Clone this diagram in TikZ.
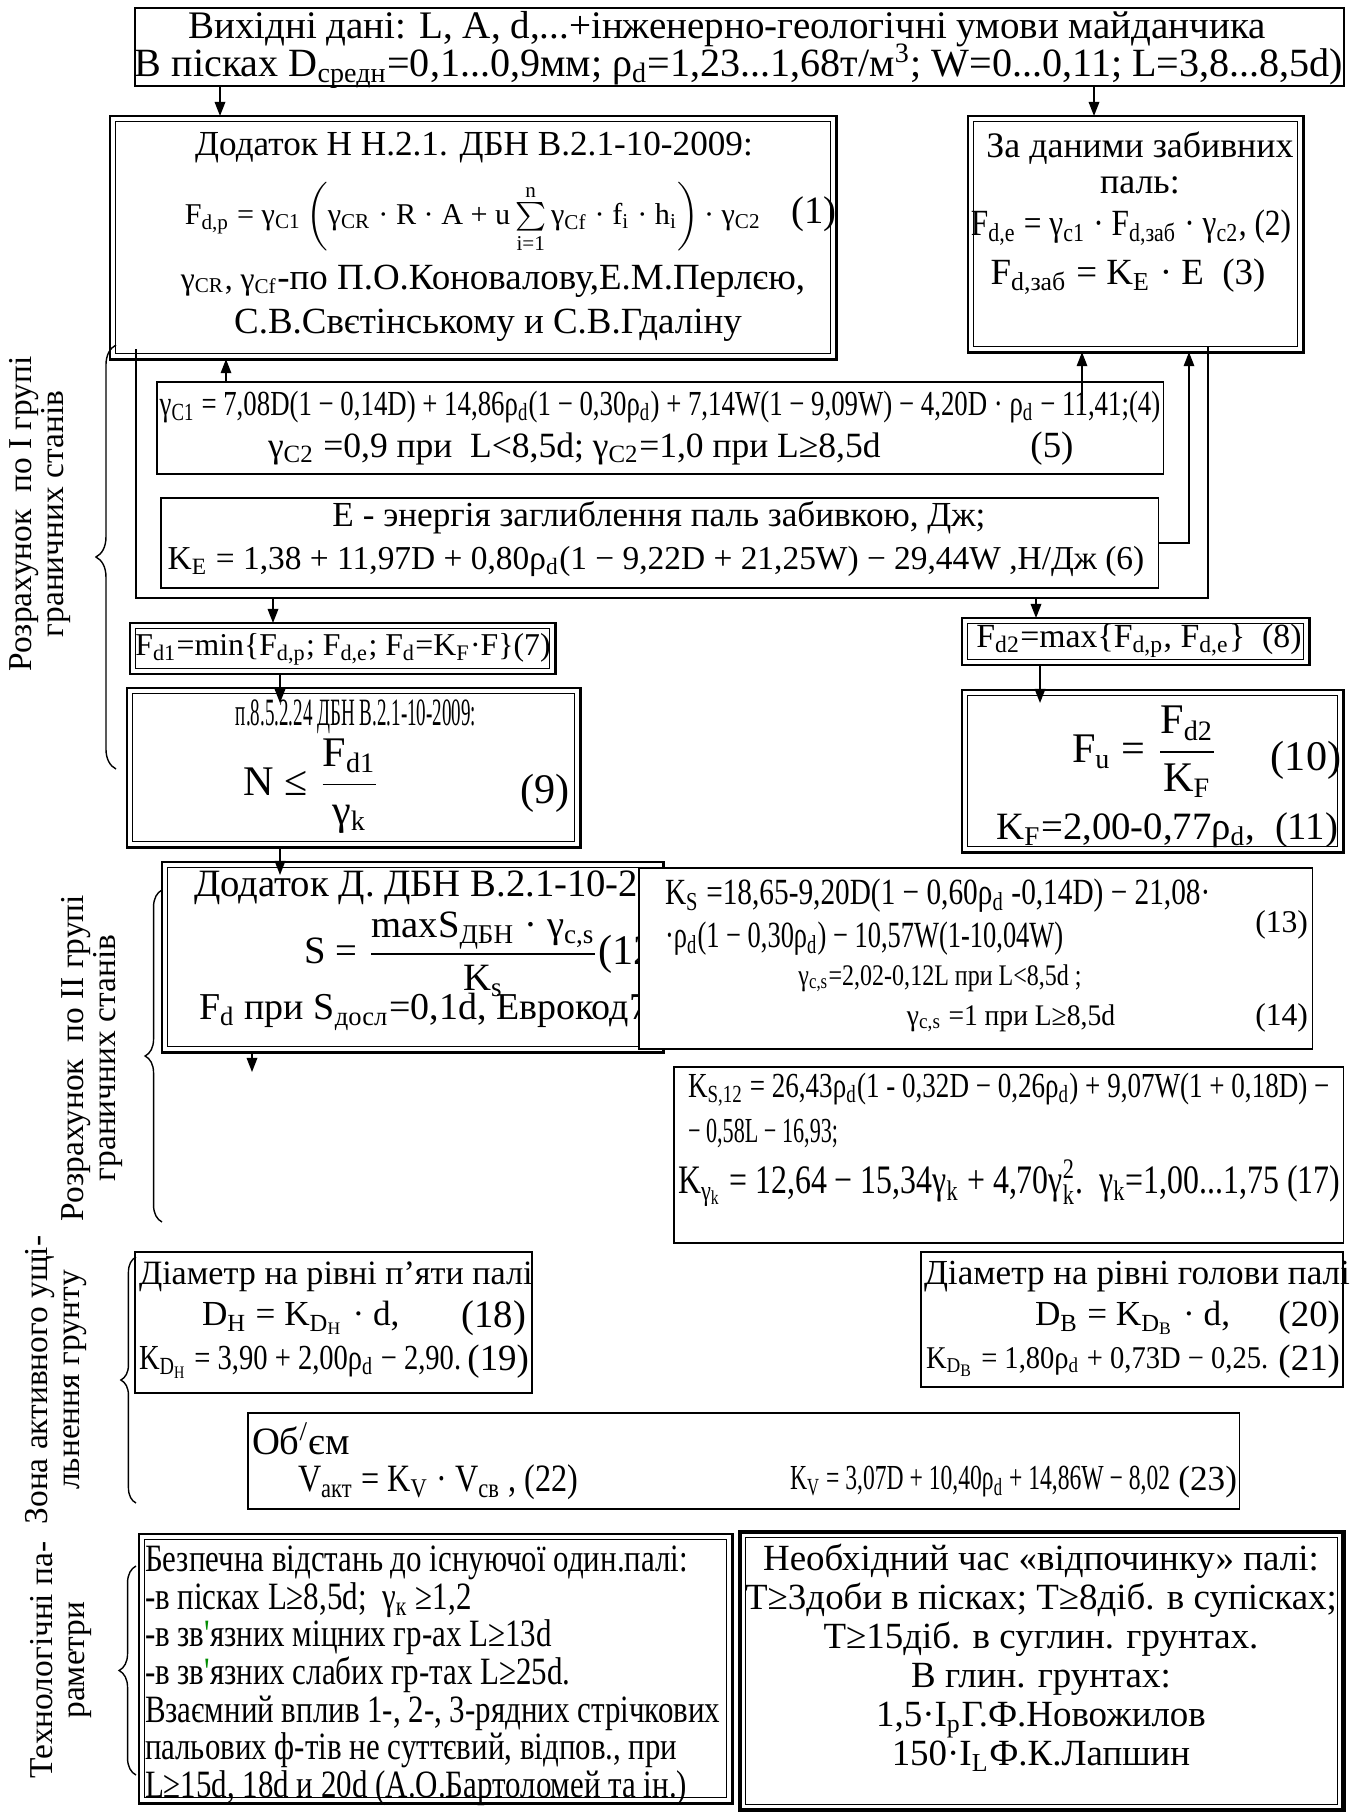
\documentclass[tikz,border=0pt]{standalone}
\usepackage{amsmath}
\usepackage{graphicx}
\usepackage{fontspec}
\setmainfont{Liberation Serif}
\newfontfamily\narrowf{Liberation Serif}[FakeStretch=0.8]
\usepackage{tikz}
\usetikzlibrary{
	arrows.meta,
	decorations.pathreplacing,
	positioning
}
\newcommand{\lo}[1]{\textsubscript{#1}}
\newcommand{\fz}[1]{\fontsize{#1}{#1}\selectfont}
\definecolor{ApoGreen}{RGB}{0,140,0}

\tikzset{
	box/.style={draw, line width=0.45pt, anchor=north west, inner sep=0pt, outer sep=0pt},
	dbox/.style={box, line width=0.8pt,
		path picture={\draw[line width=0.35pt]
			([shift={(1.6pt,-1.6pt)}]path picture bounding box.north west) rectangle
			([shift={(-1.6pt,1.6pt)}]path picture bounding box.south east);}},
	t/.style={inner sep=0pt, outer sep=0pt},
	arr/.style={line width=0.45pt, -{Triangle[length=4pt,width=3pt]}},
	brc/.style={decorate, line width=0.4pt},
	side/.style={t, rotate=90, align=center, font=\fontsize{9.5}{9}\selectfont}
}

\begin{document}
\begin{tikzpicture}[x=0.01cm, y=-0.01cm]
			\useasboundingbox (0,0) rectangle (1357,1812);
			
			% вихідні дані
			\node[box, minimum width=12.08cm, minimum height=0.78cm] (src) at (135,8) {};
			\node[t, font=\fz{11.1}] (src-a) at (727,29) {Вихідні дані: L, A, d,...+інженерно-геологічні умови майданчика};
			\node[t, font=\fz{11.4}] (src-b) at (739,66) {В пісках D\lo{средн}=0,1...0,9мм; ρ\lo{d}=1,23...1,68т/м\textsuperscript{3}; W=0...0,11; L=3,8...8,5d)};
			
			% I група
			\node[dbox, minimum width=7.26cm, minimum height=2.43cm] (dbn) at (110,116) {};
			\node[t, font=\fz{10}] (dbn-a) at (474,148) {Додаток Н Н.2.1. ДБН В.2.1-10-2009:};
			\node[t, font=\fz{9.5}] (dbn-b) at (473,218) {\resizebox{5.76cm}{!}{$\text{F\lo{d,p} = γ\lo{C1}}\left(\text{γ\lo{CR} · R · A + u}\sum\limits_{\text{i=1}}^{\text{n}}\text{γ\lo{Cf} · f\lo{i} · h\lo{i}}\right)\text{· γ\lo{C2}}$}};
			\node[t, font=\fz{11}] (dbn-n) at (814,214) {(1)};
			\node[t, font=\fz{10.5}] (dbn-c) at (493,281) {{\fz{9}γ\lo{CR}, γ\lo{Cf}}-по П.О.Коновалову,Е.М.Перлєю,};
			\node[t, font=\fz{10.5}] (dbn-d) at (488,325) {С.В.Свєтінському и С.В.Гдаліну};
			
			\node[dbox, minimum width=3.35cm, minimum height=2.36cm] (zab) at (968,116) {};
			\node[t, font=\fz{10.2}] (zab-a) at (1140,148) {За даними забивних};
			\node[t, font=\fz{10.2}] (zab-b) at (1140,185) {паль:};
			\node[t, font=\fz{10.5}] (zab-c) at (1131,228) {\resizebox{3.2cm}{\height}{F\lo{d,e} = γ\lo{c1} · F\lo{d,заб} · γ\lo{c2}, (2)}};
			\node[t, font=\fz{10.5}] (zab-d) at (1128,277) {F\lo{d,заб} = K\lo{E} · E\ \ (3)};
			
			\node[box, minimum width=10.06cm, minimum height=0.92cm] (gam) at (157,382) {};
			\node[t, font=\fz{10}] (gam-a) at (660,407) {\resizebox{10cm}{\height}{γ\lo{C1} = 7,08D(1 − 0,14D) + 14,86ρ\lo{d}(1 − 0,30ρ\lo{d}) + 7,14W(1 − 9,09W) − 4,20D · ρ\lo{d} − 11,41;(4)}};
			\node[t, anchor=west, font=\fz{10.1}] (gam-b) at (268,449) {γ\lo{C2} =0,9 при\ \ L<8,5d; γ\lo{C2}=1,0 при L≥8,5d};
			\node[t, font=\fz{10.5}] (gam-n) at (1052,449) {(5)};
			
			\node[box, minimum width=9.97cm, minimum height=0.90cm] (ken) at (161,498) {};
			\node[t, font=\fz{10}] (ken-a) at (659,518) {Е - энергія заглиблення паль забивкою, Дж;};
			\node[t, font=\fz{11}] (ken-b) at (656,561) {\resizebox{9.76cm}{!}{K\lo{E} = 1,38 + 11,97D + 0,80ρ\lo{d}(1 − 9,22D + 21,25W) − 29,44W ,Н/Дж (6)}};
			
			% рамка
			\coordinate (fr-a) at (136,349);
			\coordinate (fr-b) at (136,598);
			\coordinate (fr-c) at (1208,598);
			\coordinate (fr-d) at (1208,347);
			\draw[line width=0.45pt] (fr-a) -- (fr-b) -- (fr-c) -- (fr-d);
			
			\node[dbox, minimum width=4.25cm, minimum height=0.51cm] (fmin) at (130,623) {};
			\node[t, font=\fz{11}] (fmin-a) at (343,649) {\resizebox{4.15cm}{!}{F\lo{d1}=min\{F\lo{d,p}; F\lo{d,e}; F\lo{d}=K\lo{F}·F\}(7)}};
			\node[dbox, minimum width=3.47cm, minimum height=0.47cm] (fmax) at (962,618) {};
			\node[t, font=\fz{11}] (fmax-a) at (1139,641) {\resizebox{3.25cm}{!}{F\lo{d2}=max\{F\lo{d,p}, F\lo{d,e}\}\ \ (8)}};
			
			\node[dbox, minimum width=4.53cm, minimum height=1.59cm] (nle) at (127,688) {};
			\node[t, font=\fz{11}] (nle-a) at (356,717) {\resizebox{2.4cm}{\height}{п.8.5.2.24 ДБН В.2.1-10-2009:}};
			\node[t, font=\fz{12}] (nle-b) at (312,786) {N ≤ $\dfrac{\text{F\lo{d1}}}{\text{γ\lo{k}}}$};
			\node[t, font=\fz{12}] (nle-n) at (545,793) {(9)};
			
			\node[dbox, minimum width=3.81cm, minimum height=1.62cm] (fu) at (962,690) {};
			\node[t, font=\fz{12}] (fu-a) at (1145,752) {F\lo{u} = $\dfrac{\text{F\lo{d2}}}{\text{K\lo{F}}}$};
			\node[t, font=\fz{12}] (fu-n) at (1306,760) {(10)};
			\node[t, anchor=east, font=\fz{11}] (fu-b) at (1338,830) {K\lo{F}=2,00-0,77ρ\lo{d},\ \ (11)};
			
			% II група
			\node[dbox, minimum width=5.01cm, minimum height=1.90cm] (sett) at (162,862) {};
			\node[t, anchor=west, font=\fz{11}] (sett-a) at (194,888) {Додаток Д. ДБН В.2.1-10-2009};
			\node[t, font=\fz{11}] (sett-b) at (452,954) {S = $\dfrac{\text{maxS\lo{ДБН} · γ\lo{c,s}}}{\text{K\lo{s}}}$};
			\node[t, anchor=west, font=\fz{12}] (sett-n) at (598,954) {(12)};
			\node[t, anchor=west, font=\fz{10.8}] (sett-c) at (199,1012) {F\lo{d} при S\lo{досл}=0,1d, Еврокод7};
			
			\node[box, fill=white, minimum width=6.73cm, minimum height=1.81cm] (ks) at (639,868) {};
			\node[t, anchor=west, font=\fz{10.5}] (ks-a) at (665,896) {\resizebox{5.45cm}{\height}{K\lo{S} =18,65-9,20D(1 − 0,60ρ\lo{d} -0,14D) − 21,08·}};
			\node[t, anchor=east, font=\fz{9}] (ks-n1) at (1308,925) {(13)};
			\node[t, anchor=west, font=\fz{10.5}] (ks-b) at (665,939) {\resizebox{3.98cm}{\height}{·ρ\lo{d}(1 − 0,30ρ\lo{d}) − 10,57W(1-10,04W)}};
			\node[t, font=\fz{8.5}] (ks-c) at (940,978) {\resizebox{2.83cm}{\height}{γ\lo{c,s}=2,02-0,12L при L<8,5d ;}};
			\node[t, font=\fz{8.5}] (ks-d) at (1011,1018) {\resizebox{2.08cm}{\height}{γ\lo{c,s} =1 при L≥8,5d}};
			\node[t, anchor=east, font=\fz{9}] (ks-n2) at (1308,1018) {(14)};
			
			\node[box, minimum width=6.69cm, minimum height=1.76cm] (ks12) at (674,1067) {};
			\node[t, anchor=west, font=\fz{10}] (ks12-a) at (688,1090) {\resizebox{6.41cm}{\height}{K\lo{S,12} = 26,43ρ\lo{d}(1 - 0,32D − 0,26ρ\lo{d}) + 9,07W(1 + 0,18D) −}};
			\node[t, anchor=west, font=\fz{10}] (ks12-b) at (688,1133) {\resizebox{1.5cm}{\height}{− 0,58L − 16,93;}};
			\node[t, anchor=west, font=\fz{11.5}] (ks12-c) at (678,1183) {\resizebox{6.62cm}{\height}{K\lo{γ\lo{k}} = 12,64 − 15,34γ\lo{k} + 4,70γ$_{\text{k}}^{\text{2}}$.\ \ γ\lo{k}=1,00...1,75 (17)}};
			
			% зона ущільнення
			\node[box, minimum width=3.97cm, minimum height=1.41cm] (dh) at (135,1252) {};
			\node[t, anchor=west, font=\fz{9.7}] (dh-a) at (139,1277) {Діаметр на рівні п’яти палі};
			\node[t, anchor=west, font=\fz{10}] (dh-b) at (202,1318) {D\lo{Н} = K\lo{D\lo{Н}} · d,};
			\node[t, anchor=east, font=\fz{11}] (dh-n1) at (526,1318) {(18)};
			\node[t, anchor=west, font=\fz{10}] (dh-c) at (139,1362) {\resizebox{3.22cm}{\height}{K\lo{D\lo{Н}} = 3,90 + 2,00ρ\lo{d} − 2,90.}};
			\node[t, anchor=east, font=\fz{10.5}] (dh-n2) at (529,1362) {(19)};
			
			\node[box, minimum width=4.22cm, minimum height=1.35cm] (db) at (921,1252) {};
			\node[t, anchor=west, font=\fz{10}] (db-a) at (924,1277) {Діаметр на рівні голови палі};
			\node[t, anchor=west, font=\fz{10}] (db-b) at (1035,1318) {D\lo{В} = K\lo{D\lo{В}} · d,};
			\node[t, anchor=east, font=\fz{10.5}] (db-n1) at (1340,1318) {(20)};
			\node[t, anchor=west, font=\fz{9}] (db-c) at (926,1362) {\resizebox{3.42cm}{\height}{K\lo{D\lo{В}} = 1,80ρ\lo{d} + 0,73D − 0,25.}};
			\node[t, anchor=east, font=\fz{10.5}] (db-n2) at (1340,1362) {(21)};
			
			\node[box, minimum width=9.91cm, minimum height=0.96cm] (vol) at (248,1413) {};
			\node[t, anchor=west, font=\fz{11}] (vol-a) at (252,1439) {Об\textsuperscript{/}єм};
			\node[t, anchor=west, font=\fz{11}] (vol-b) at (298,1482) {\resizebox{2.8cm}{\height}{V\lo{акт} = K\lo{V} · V\lo{св} , (22)}};
			\node[t, anchor=west, font=\fz{10}] (vol-c) at (790,1482) {\resizebox{3.8cm}{\height}{K\lo{V} = 3,07D + 10,40ρ\lo{d} + 14,86W − 8,02}};
			\node[t, anchor=east, font=\fz{10}] (vol-n) at (1237,1482) {(23)};
			
			% технологічні параметри
			\node[dbox, minimum width=5.93cm, minimum height=2.69cm] (safe) at (139,1534) {};
			\node[t, anchor=north west, align=left, font=\narrowf\fontsize{11}{10.7}\selectfont] (safe-a) at (145,1546) {Безпечна відстань до існуючої один.палі:\\-в пісках L≥8,5d;\ \ γ\lo{к} ≥1,2\\-в зв\textcolor{ApoGreen}{'}язних міцних гр-ах L≥13d\\-в зв\textcolor{ApoGreen}{'}язних слабих гр-тах L≥25d.\\Взаємний вплив 1-, 2-, 3-рядних стрічкових\\пальових ф-тів не суттєвий, відпов., при\\L≥15d, 18d и 20d (А.О.Бартоломей та ін.)};
			
			\node[dbox, line width=1.3pt, minimum width=6.03cm, minimum height=2.78cm] (rest) at (740,1532) {};
			\node[t, anchor=north, align=center, font=\fontsize{10.5}{11.1}\selectfont] (rest-a) at (1041,1544) {Необхідний час «відпочинку» палі:\\Т≥3доби в пісках; Т≥8діб. в супісках;\\Т≥15діб. в суглин. грунтах.\\В глин. грунтах:\\1,5·I\lo{p}Г.Ф.Новожилов\\150·I\lo{L}Ф.К.Лапшин};
			
			% підписи зліва
			\node[side] (lab1) at (40,514) {Розрахунок\ \ по I групі\\граничних станів};
			\node[side] (lab2) at (92,1058) {Розрахунок\ \ по II групі\\граничних станів};
			\node[side] (lab3) at (56,1380) {Зона активного ущі-\\льнення грунту};
			\node[side] (lab4) at (61,1660) {Технологічні па-\\раметри};
			
			\draw[brc, decoration={brace, amplitude=5.7pt}] (116,769) -- (116,345);
			\draw[brc, decoration={brace, amplitude=4.8pt}] (162,1222) -- (162,890);
			\draw[brc, decoration={brace, amplitude=4.3pt}] (136,1503) -- (136,1257);
			\draw[brc, decoration={brace, amplitude=4.8pt}] (136,1775) -- (136,1566);
			
			% стрілки
			\coordinate (c-in) at (220,0);
			\coordinate (c-zab) at (1094,0);
			\coordinate (c-g1) at (226,0);
			\coordinate (c-g2) at (1082,410);
			\coordinate (c-e) at (1189,0);
			\coordinate (c-min) at (273,0);
			\coordinate (c-max) at (1036,0);
			\coordinate (c-n) at (280,703);
			\coordinate (c-fu) at (1040,703);
			\coordinate (c-s) at (280,875);
			\coordinate (c-out) at (252,1072);
			
			\draw[arr] (src.south -| c-in) -- (dbn.north -| c-in);
			\draw[arr] (src.south -| c-zab) -- (zab.north -| c-zab);
			\draw[arr] (gam.north -| c-g1) -- (dbn.south -| c-g1);
			\draw[arr] (c-g2) -- (zab.south -| c-g2);
			\draw[arr] (ken.east) -| (zab.south -| c-e);
			\draw[arr] (fr-b -| c-min) -- (fmin.north -| c-min);
			\draw[arr] (fr-b -| c-max) -- (fmax.north -| c-max);
			\draw[arr] (fmin.south -| c-n) -- (c-n);
			\draw[arr] (fmax.south -| c-fu) -- (c-fu);
			\draw[arr] (nle.south -| c-s) -- (c-s);
			\draw[arr] (sett.south -| c-out) -- (c-out);
		\end{tikzpicture}
\end{document}
